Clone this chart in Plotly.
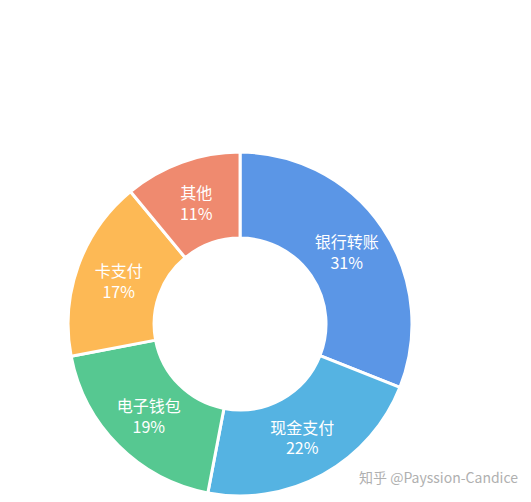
import plotly.graph_objects as go

# 支付方式占比
labels = ["银行转账", "现金支付", "电子钱包", "卡支付", "其他"]
values = [31, 22, 19, 17, 11]
colors = ["#5b96e6", "#55b3e2", "#56c891", "#fdb955", "#ef8a6f"]

fig = go.Figure(go.Pie(
    labels=labels,
    values=values,
    hole=0.5,
    sort=False,
    direction="clockwise",
    rotation=0,
    marker=dict(colors=colors, line=dict(color="white", width=3)),
    texttemplate="%{label}<br>%{value}%",
    textposition="inside",
    insidetextorientation="horizontal",
    textfont=dict(family="Noto Sans CJK SC, sans-serif", size=16, color="white"),
    domain=dict(x=[0.113, 0.761], y=[0.028, 0.713]),
    showlegend=False,
))

# 水印
fig.add_annotation(
    xref="paper", yref="paper", x=0.81, y=0.066,
    text="知乎 @Payssion-Candice", showarrow=False,
    xanchor="center", yanchor="middle",
    font=dict(family="Noto Sans CJK SC, sans-serif", size=14, color="#b0b0b0"),
)

fig.update_layout(
    width=531, height=502,
    margin=dict(l=0, r=0, t=0, b=0),
    paper_bgcolor="white",
    plot_bgcolor="white",
)
fig.write_html("out.html")
